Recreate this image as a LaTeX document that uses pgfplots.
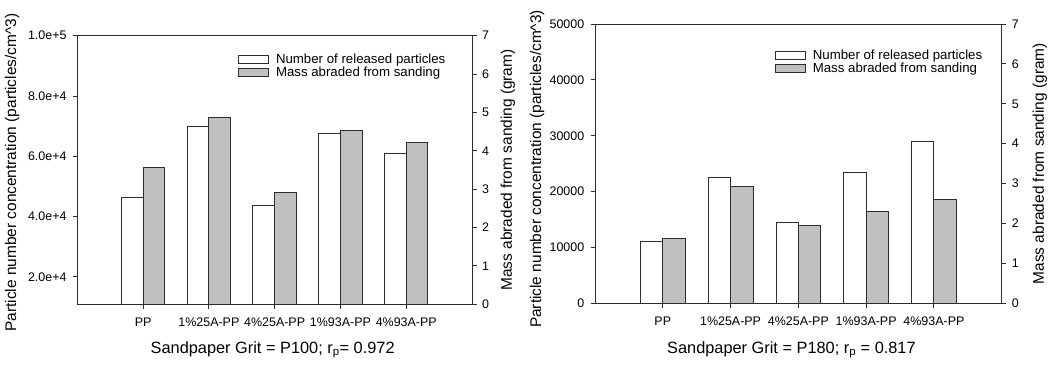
\documentclass[border=0pt]{standalone}
\usepackage{fontspec}
\setmainfont{Liberation Sans}
\usepackage{pgfplots}
\pgfplotsset{compat=1.18}
\definecolor{barg}{RGB}{192,192,192}
\definecolor{ln}{RGB}{45,45,45}
\begin{document}
\begin{tikzpicture}[x=1bp,y=1bp]
\useasboundingbox (0,0) rectangle (1050,368);
\pgfplotsset{
  common/.style={
    scale only axis, anchor=south west,
    xmin=-1, xmax=5, xtick={0,1,2,3,4},
    xticklabels={PP,1\%25A-PP,4\%25A-PP,1\%93A-PP,4\%93A-PP},
    scaled y ticks=false,
    tick align=outside, major tick length=4.5bp,
    tick style={draw=ln, line width=0.9bp},
    axis line style={draw=ln, line width=1bp},
    ticklabel style={font=\fontsize{12.5}{14}\selectfont, inner sep=2bp},
    xticklabel style={yshift=-6.7bp},
    label style={font=\fontsize{15.5}{18}\selectfont},
    ybar, bar width=0.33,
    legend image code/.code={\draw[##1, line width=0.9bp] (0bp,-4bp) rectangle (30bp,4bp);},
  },
  lstyle/.style={draw=none, fill=none, inner sep=0pt, column sep=6.4bp, row sep=0pt,
    font=\fontsize{13.3}{15}\selectfont, nodes={inner sep=1bp}, cells={anchor=west}},
  rightax/.style={common, hide x axis, axis y line*=right,
    ymin=0, ymax=7, ytick={0,1,2,3,4,5,6,7},
    yticklabels={0,1,2,3,4,5,6,7},
    yticklabel style={xshift=3.5bp},
    ylabel={Mass abraded from sanding (gram)}},
}
% ---------------- left panel ----------------
\begin{axis}[common, at={(77.3bp,63.7bp)}, width=394.7bp, height=268.6bp,
  ymin=10900, ymax=100000, ytick={20000,40000,60000,80000,100000},
  yticklabels={2.0e+4,4.0e+4,6.0e+4,8.0e+4,1.0e+5},
  xtick pos=left, ytick pos=left,
  yticklabel style={xshift=-4.1bp},
  ylabel={Particle number concentration (particles/cm\textasciicircum 3)},
  ylabel style={at={(axis description cs:-0.165,0.49)}, anchor=center},
  xlabel={Sandpaper Grit = P100; r\textsubscript{p}= 0.972},
  xlabel style={at={(axis description cs:0.495,-0.17)}, anchor=center, font=\fontsize{16.4}{19}\selectfont},
  legend style={lstyle, at={(axis description cs:0.4059,0.9367)}, anchor=north west}]
\addplot[fill=white, draw=ln, line width=0.9bp, bar shift=-0.165]
  coordinates {(0,46300) (1,69800) (2,43600) (3,67600) (4,61000)};
\addlegendentry{Number of released particles}
\addlegendimage{fill=barg, draw=ln}
\addlegendentry{Mass abraded from sanding}
\end{axis}
\begin{axis}[rightax, at={(77.3bp,63.7bp)}, width=394.7bp, height=268.6bp,
  ylabel style={at={(axis description cs:1.091,0.5)}, anchor=center}]
\addplot[fill=barg, draw=ln, line width=0.9bp, bar shift=0.165]
  coordinates {(0,3.56) (1,4.86) (2,2.91) (3,4.54) (4,4.21)};
\end{axis}
% ---------------- right panel ----------------
\begin{axis}[common, at={(595bp,64.7bp)}, width=406.7bp, height=279.3bp,
  ymin=0, ymax=50000, ytick={0,10000,20000,30000,40000,50000},
  yticklabels={0,10000,20000,30000,40000,50000},
  xtick pos=left, ytick pos=left,
  yticklabel style={xshift=-4.1bp},
  ylabel={Particle number concentration (particles/cm\textasciicircum 3)},
  ylabel style={at={(axis description cs:-0.1426,0.481)}, anchor=center},
  xlabel={Sandpaper Grit = P180; r\textsubscript{p} = 0.817},
  xlabel style={at={(axis description cs:0.483,-0.167)}, anchor=center, font=\fontsize{16.4}{19}\selectfont},
  legend style={lstyle, at={(axis description cs:0.4409,0.911)}, anchor=north west}]
\addplot[fill=white, draw=ln, line width=0.9bp, bar shift=-0.165]
  coordinates {(0,11150) (1,22490) (2,14500) (3,23380) (4,28930)};
\addlegendentry{Number of released particles}
\addlegendimage{fill=barg, draw=ln}
\addlegendentry{Mass abraded from sanding}
\end{axis}
\begin{axis}[rightax, at={(595bp,64.7bp)}, width=406.7bp, height=279.3bp,
  ylabel style={at={(axis description cs:1.094,0.5)}, anchor=center}]
\addplot[fill=barg, draw=ln, line width=0.9bp, bar shift=0.165]
  coordinates {(0,1.63) (1,2.92) (2,1.955) (3,2.29) (4,2.61)};
\end{axis}
\end{tikzpicture}
\end{document}
